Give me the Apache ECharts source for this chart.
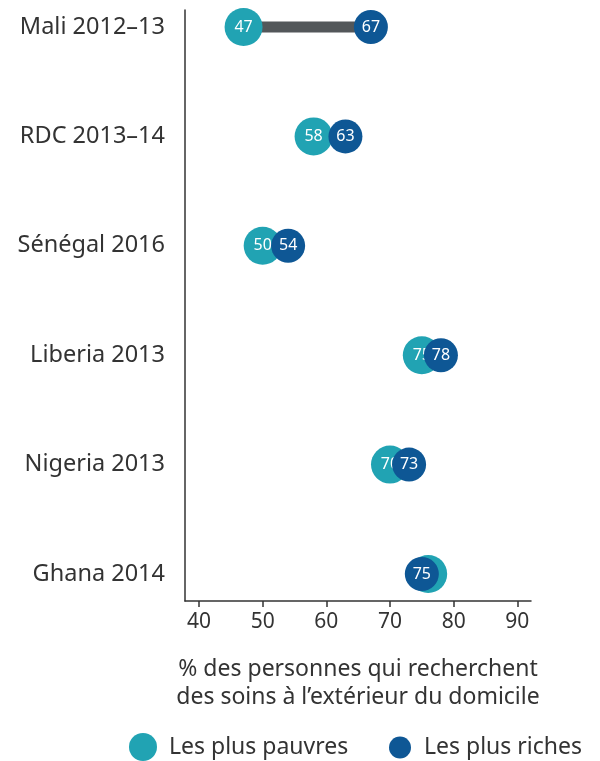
<!DOCTYPE html>
<html><head><meta charset="utf-8">
<script src="https://cdn.jsdelivr.net/npm/echarts@6/dist/echarts.min.js"></script>
<style>html,body{margin:0;padding:0;background:#fff}#c{width:600px;height:761px}</style>
</head><body><div id="c"></div>
<script>
const categories = ['Mali 2012–13', 'RDC 2013–14', 'Sénégal 2016', 'Liberia 2013', 'Nigeria 2013', 'Ghana 2014'];
const poorest = [47, 58, 50, 75, 70, 76];
const richest = [67, 63, 54, 78, 73, 75];
const xTicks = [40, 50, 60, 70, 80, 90];
const seriesNames = ['Les plus pauvres', 'Les plus riches'];
const xTitle = '% des personnes qui recherchent\ndes soins à l’extérieur du domicile';

const FONT = 'Noto Sans';
const TEAL = '#21a3b3';
const BLUE = '#0e5795';
const X_MIN = 37.8, X_MAX = 92.15;

const chart = echarts.init(document.getElementById('c'), null, {renderer: 'canvas'});
chart.setOption({
  animation: false,
  textStyle: {fontFamily: FONT},
  grid: [
    {left: 185, right: 69, top: 10, bottom: 160},
    {left: 185, right: 69, top: 27, bottom: 187}
  ],
  xAxis: [
    {
      type: 'value', gridIndex: 0, min: X_MIN, max: X_MAX,
      axisLine: {show: true, lineStyle: {color: '#333', width: 1.5}},
      axisTick: {show: true, length: 6, customValues: xTicks, lineStyle: {color: '#333', width: 1.5}},
      axisLabel: {customValues: xTicks, color: '#333', fontSize: 21, margin: 11, fontFamily: FONT},
      splitLine: {show: false},
      name: xTitle, nameLocation: 'middle', nameGap: 54,
      nameTextStyle: {color: '#333', fontSize: 23, lineHeight: 28, fontFamily: FONT, verticalAlign: 'top'}
    },
    {
      type: 'value', gridIndex: 1, min: X_MIN, max: X_MAX, show: false
    }
  ],
  yAxis: [
    {
      type: 'value', gridIndex: 0, min: 0, max: 1,
      axisLine: {show: true, lineStyle: {color: '#333', width: 1.5}},
      axisTick: {show: false}, axisLabel: {show: false}, splitLine: {show: false}
    },
    {
      type: 'category', gridIndex: 1, data: categories, inverse: true, boundaryGap: false,
      axisLine: {show: false}, axisTick: {show: false}, splitLine: {show: false},
      axisLabel: {color: '#333', fontSize: 23.5, margin: 20, fontFamily: FONT}
    }
  ],
  legend: [
    {
      data: [seriesNames[0]], left: 124, top: 728, itemWidth: 28, itemHeight: 28,
      icon: 'circle', textStyle: {color: '#333', fontSize: 23, padding: [0, 0, 0, 7], fontFamily: FONT}
    },
    {
      data: [seriesNames[1]], left: 384, top: 731, itemWidth: 22, itemHeight: 22,
      icon: 'circle', textStyle: {color: '#333', fontSize: 23, padding: [0, 0, 0, 8], fontFamily: FONT}
    }
  ],
  series: [
    {
      type: 'custom', xAxisIndex: 1, yAxisIndex: 1, z: 1, silent: true,
      data: categories.map((c, i) => [i, poorest[i], richest[i]]),
      encode: {x: [1, 2], y: 0},
      renderItem: function (params, api) {
        const p1 = api.coord([api.value(1), api.value(0)]);
        const p2 = api.coord([api.value(2), api.value(0)]);
        return {type: 'line', shape: {x1: p1[0], y1: p1[1], x2: p2[0], y2: p2[1]},
          style: {stroke: '#53575a', lineWidth: 11}};
      }
    },
    {
      name: seriesNames[0], type: 'scatter', xAxisIndex: 1, yAxisIndex: 1, z: 2,
      symbolSize: 38, itemStyle: {color: TEAL, opacity: 1},
      data: poorest.map((v, i) => [v, i]),
      label: {show: true, position: 'inside', color: '#fff', fontSize: 16, fontFamily: FONT,
        formatter: p => p.value[0]}
    },
    {
      name: seriesNames[1], type: 'scatter', xAxisIndex: 1, yAxisIndex: 1, z: 3,
      symbolSize: 34, itemStyle: {color: BLUE, opacity: 1},
      data: richest.map((v, i) => [v, i]),
      label: {show: true, position: 'inside', color: '#fff', fontSize: 16, fontFamily: FONT,
        formatter: p => p.value[0]}
    }
  ]
});
</script></body></html>
